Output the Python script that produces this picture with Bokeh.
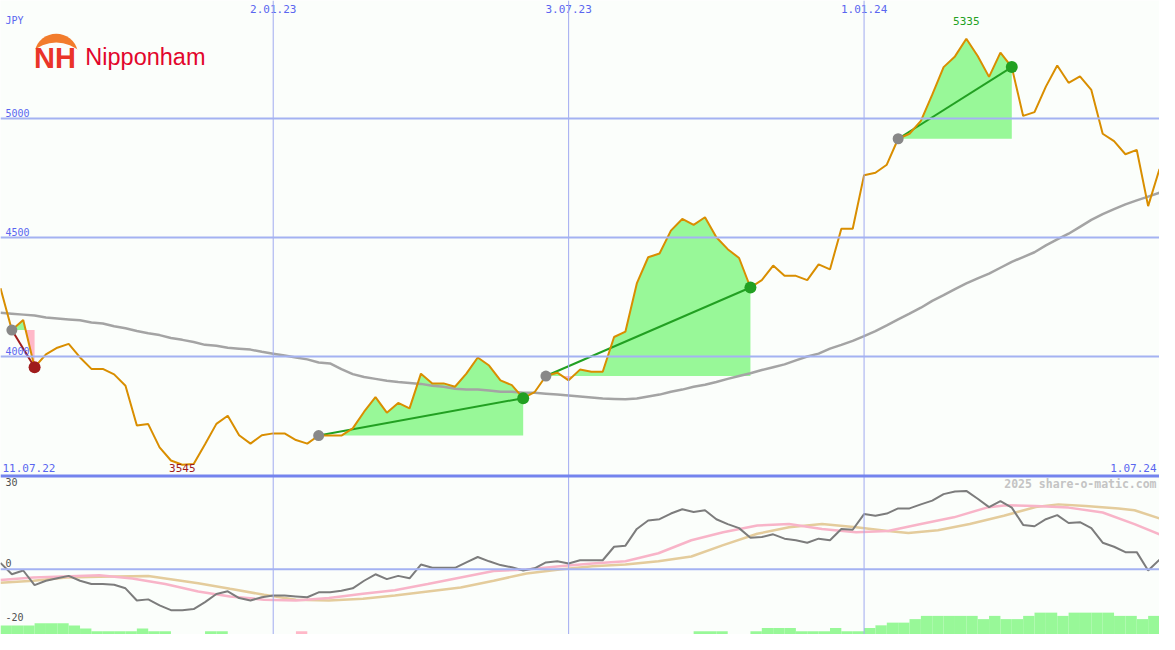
import numpy as np
import pandas as pd
from bokeh.plotting import figure
from bokeh.models import Range1d, Span
from bokeh.core.properties import value
from bokeh.embed import file_html
from bokeh.resources import INLINE

# ---------------- data ----------------
dates = pd.date_range("2022-07-18", periods=103, freq="7D")

price = [4287, 4111, 4153, 3955, 4009, 4037, 4053, 3996, 3948, 3948,
         3925, 3877, 3710, 3716, 3618, 3563, 3545, 3548, 3631, 3717,
         3751, 3669, 3634, 3669, 3677, 3677, 3649, 3634, 3668, 3668,
         3668, 3698, 3768, 3829, 3764, 3805, 3782, 3928, 3887, 3887,
         3873, 3928, 3996, 3962, 3900, 3880, 3825, 3850, 3918, 3932,
         3900, 3945, 3936, 3936, 4082, 4105, 4307, 4417, 4433, 4529,
         4578, 4553, 4585, 4501, 4451, 4414, 4290, 4321, 4382, 4339,
         4339, 4321, 4387, 4366, 4537, 4537, 4762, 4772, 4806, 4915,
         4936, 4990, 5100, 5216, 5261, 5335, 5263, 5175, 5277, 5216,
         5011, 5027, 5134, 5223, 5150, 5177, 5120, 4936, 4905, 4850,
         4868, 4632, 4788]

ma = [4184, 4180, 4176, 4172, 4164, 4160, 4156, 4152, 4143, 4139,
      4127, 4119, 4107, 4098, 4090, 4078, 4070, 4061, 4049, 4045,
      4037, 4033, 4029, 4020, 4012, 4004, 3996, 3988, 3975, 3971,
      3947, 3926, 3914, 3906, 3898, 3893, 3889, 3885, 3877, 3873,
      3865, 3861, 3861, 3857, 3852, 3852, 3848, 3848, 3844, 3840,
      3836, 3832, 3828, 3824, 3822, 3820, 3824, 3832, 3840, 3852,
      3861, 3873, 3881, 3893, 3906, 3918, 3930, 3943, 3955, 3967,
      3984, 4000, 4012, 4033, 4049, 4066, 4086, 4107, 4131, 4156,
      4180, 4205, 4234, 4258, 4283, 4307, 4328, 4348, 4373, 4398,
      4418, 4438, 4467, 4492, 4516, 4545, 4574, 4598, 4619, 4639,
      4656, 4672, 4688]

signal_start = [1, 28, 48, 79]
signal_end = [3, 46, 66, 89]

osc = [2.3, -1.9, -0.5, -5.9, -4.3, -3.4, -2.5, -4.3, -5.5, -5.5,
       -5.8, -7.1, -11.6, -11.2, -13.4, -15.2, -15.2, -14.8, -12.2, -9.2,
       -8.2, -10.7, -11.6, -10.4, -9.8, -9.8, -10.1, -10.4, -8.6, -8.6,
       -8.0, -7.1, -4.3, -1.9, -3.7, -2.5, -3.4, 1.7, 0.5, 0.5,
       0.5, 2.5, 4.5, 2.9, 1.5, 0.7, -0.5, 0.3, 2.5, 2.9,
       2.1, 3.3, 3.3, 3.3, 8.3, 8.7, 14.9, 18.0, 18.5, 20.6,
       22.2, 21.2, 21.8, 18.5, 16.7, 15.2, 11.6, 11.9, 12.9, 11.3,
       10.7, 9.8, 11.3, 10.7, 14.9, 14.6, 20.4, 19.8, 20.6, 22.5,
       22.5, 24.0, 25.4, 27.8, 28.8, 29.0, 26.1, 23.0, 25.2, 22.8,
       16.4, 15.9, 18.5, 20.0, 17.1, 17.4, 15.2, 9.8, 8.3, 6.3,
       6.3, -0.5, 3.5]

pink_wk = [0, 2.9, 8.7, 11.6, 14.5, 17.4, 20.2, 23.2, 26.0, 28.9, 31.9, 34.7,
           37.6, 40.5, 43.4, 46.3, 49.2, 52.1, 55.0, 57.9, 60.8, 63.6, 66.6,
           69.4, 72.3, 75.3, 78.1, 81.0, 83.9, 86.8, 88.5, 91.1, 94.0, 97.0,
           99.8, 102]
pink_val = [-4.0, -3.1, -2.3, -3.5, -5.5, -8.3, -10.1, -11.3, -11.6, -10.7,
            -9.1, -7.8, -5.5, -3.1, -0.7, -0.1, 1.1, 2.1, 2.9, 5.9, 10.7,
            13.7, 16.2, 16.7, 14.9, 13.7, 14.1, 16.7, 19.2, 22.8, 23.7, 23.4,
            22.8, 21.0, 16.7, 12.9]

tan_wk = [0, 2.9, 5.8, 8.7, 13.0, 17.4, 20.2, 23.2, 26.0, 28.9, 31.9, 34.7,
          37.6, 40.5, 43.4, 46.3, 49.2, 52.1, 55.0, 57.9, 60.8, 63.6, 66.6,
          69.4, 72.3, 75.3, 78.1, 79.9, 82.5, 85.3, 88.3, 91.1, 93.1, 95.5,
          98.4, 99.8, 102]
tan_val = [-5.0, -4.3, -3.1, -2.8, -2.5, -5.2, -7.3, -9.5, -11.3, -11.6,
           -11.0, -9.8, -8.3, -6.8, -4.3, -1.6, -0.1, 1.1, 1.7, 2.9, 4.7,
           8.9, 13.1, 15.5, 16.7, 15.5, 14.1, 13.4, 14.4, 16.7, 19.8, 23.0,
           24.0, 23.4, 22.5, 21.8, 18.8]

bars = [3.3, 3.3, 3.3, 4.2, 4.2, 4.2, 3.3, 2.2, 1.2, 1.2,
        1.2, 1.2, 2.2, 1.2, 1.2, 0, 0, 0, 1.2, 1.2,
        0, 0, 0, 0, 0, 0, -1.2, 0, 0, 0,
        0, 0, 0, 0, 0, 0, 0, 0, 0, 0,
        0, 0, 0, 0, 0, 0, 0, 0, 0, 0,
        0, 0, 0, 0, 0, 0, 0, 0, 0, 0,
        0, 1.2, 1.2, 1.2, 0, 0, 1.2, 2.4, 2.4, 2.4,
        1.2, 1.2, 1.2, 2.4, 1.2, 1.2, 2.4, 3.4, 4.4, 4.4,
        5.7, 6.9, 6.9, 6.9, 6.9, 6.9, 5.7, 6.9, 5.7, 5.7,
        6.9, 8.1, 8.1, 6.9, 8.1, 8.1, 8.1, 8.1, 6.9, 6.9,
        5.7, 6.9, 6.9]

price_ticks = [4000, 4500, 5000]
date_ticks = ["2023-01-02", "2023-07-03", "2024-01-01"]
date_tick_labels = ["2.01.23", "3.07.23", "1.01.24"]
osc_ticks = [30, 0, -20]
first_label, last_label = "11.07.22", "1.07.24"

# ---------------- layout helpers ----------------
W, H = 1159, 634
REF_W, REF_H = 1175.0, 650.0
SC = H / REF_H
K = 1000.0 / 244.0           # yen per reference pixel
OK = 1.0 / 2.767             # osc units per reference pixel
t0, t1 = dates[0], dates[-1]
span_ms = (t1 - t0)
BG = "#fbfefb"

def px_x(x):
    return t0 + span_ms * (x / REF_W)

def px_p(y):
    return 4000 + (365 - y) * K

def px_o(y):
    return (583 - y) * OK

p = figure(width=W, height=H, output_backend="svg", toolbar_location=None,
           x_axis_type="datetime",
           x_range=Range1d(t0, t1), y_range=Range1d(px_p(REF_H), px_p(0)),
           min_border=0, background_fill_color=BG,
           border_fill_color=BG, outline_line_color=None)
p.extra_y_ranges = {"osc": Range1d(px_o(REF_H), px_o(0))}
p.xaxis.visible = False
p.yaxis.visible = False
p.grid.visible = False

GREEN_FILL = "#98f898"
PINK_FILL = "#ffb8c8"

# ---- signal fills ----
price_a = np.array(price, dtype=float)
xnum = np.arange(len(price), dtype=float)
for s, e in zip(signal_start, signal_end):
    base = price_a[s]
    xs, ys = [xnum[s]], [price_a[s]]
    for i in range(s, e):
        a, b = price_a[i] - base, price_a[i + 1] - base
        if a * b < 0:
            t = a / (a - b)
            xs.append(xnum[i] + t)
            ys.append(base)
        xs.append(xnum[i + 1])
        ys.append(price_a[i + 1])
    xs = np.array(xs)
    ys = np.array(ys)
    xd = [t0 + pd.Timedelta(days=7 * v) for v in xs]
    p.varea(x=xd, y1=base, y2=np.maximum(ys, base), fill_color=GREEN_FILL)
    p.varea(x=xd, y1=base, y2=np.minimum(ys, base), fill_color=PINK_FILL)

# ---- lower panel bars ----
bars_a = np.array(bars)
left = dates
right = dates + pd.Timedelta(days=7)
bottom = px_o(REF_H)
pos = bars_a > 0
neg = bars_a < 0
p.quad(left=left[pos], right=right[pos], bottom=bottom, top=bottom + bars_a[pos],
       y_range_name="osc", fill_color=GREEN_FILL, line_color=None)
p.quad(left=left[neg], right=right[neg], bottom=bottom, top=bottom - bars_a[neg],
       y_range_name="osc", fill_color=PINK_FILL, line_color=None)

# ---- grid lines ----
for d in date_ticks:
    p.add_layout(Span(location=pd.Timestamp(d), dimension="height",
                      line_color="#a0aaf0", line_width=1))
for v in price_ticks:
    p.add_layout(Span(location=v, dimension="width", line_color="#a4b2f2", line_width=2))
p.add_layout(Span(location=0, dimension="width", y_range_name="osc",
                  line_color="#a4b2f2", line_width=2))
p.add_layout(Span(location=px_p(487.5), dimension="width",
                  line_color="#7484ee", line_width=3))

# ---- lower panel lines ----
def wk(v):
    return [t0 + pd.Timedelta(days=7 * x) for x in v]

p.line(wk(tan_wk), tan_val, y_range_name="osc", line_color="#e4cc9c", line_width=2.5)
p.line(wk(pink_wk), pink_val, y_range_name="osc", line_color="#f8b4c8", line_width=2.5)
p.line(dates, osc, y_range_name="osc", line_color="#7c7c7c", line_width=2)

# ---- main lines ----
p.line(dates, ma, line_color="#a4a4a4", line_width=2.5)

for s, e in zip(signal_start, signal_end):
    up = price[e] > price[s]
    col = "#22a022" if up else "#a01c1c"
    p.line([dates[s], dates[e]], [price[s], price[e]], line_color=col, line_width=2)

p.line(dates, price, line_color="#d98e00", line_width=2)

for s, e in zip(signal_start, signal_end):
    up = price[e] > price[s]
    col = "#22a022" if up else "#a01c1c"
    p.scatter([dates[s]], [price[s]], size=11, fill_color="#888888", line_color=None)
    p.scatter([dates[e]], [price[e]], size=12, fill_color=col, line_color=None)

# ---- texts ----
MONO = value("DejaVu Sans Mono")
BLUE = "#5a66f0"

def txt(x, y, s, color, size="10px", align="left", baseline="middle",
        font=MONO, style="normal", yname="default"):
    p.text(x=[x], y=[y], text=[s], text_color=color, text_font=font,
           text_font_size=size, text_align=align, text_baseline=baseline,
           text_font_style=style, y_range_name=yname)

txt(px_x(5), px_p(20), "JPY", BLUE)
for v in price_ticks:
    txt(px_x(5), v + 2 * K, str(v), BLUE, baseline="bottom")
for d, lab in zip(date_ticks, date_tick_labels):
    txt(pd.Timestamp(d), px_p(9), lab, BLUE, size="11px", align="center")
txt(px_x(2), px_p(479), first_label, BLUE, size="11px")
txt(px_x(1172), px_p(479), last_label, BLUE, size="11px", align="right")

i_min = int(np.argmin(price))
i_max = int(np.argmax(price))
txt(dates[i_min], px_p(479), str(price[i_min]), "#a01c1c", size="11px", align="center")
txt(dates[i_max], px_p(21), str(price[i_max]), "#22a022", size="11px", align="center")

for v in osc_ticks:
    txt(px_x(5), v + 2 * OK, str(v), "#505050", baseline="bottom", yname="osc")

txt(px_x(1172), px_o(496), "2025 share-o-matic.com", "#c4c4c4", size="11.5px",
    align="right", style="bold", yname="osc")

# ---- logo ----
p.wedge(x=[px_x(56.5)], y=[px_p(56.4)], radius=22.4 * SC, radius_units="screen",
        start_angle=np.radians(14), end_angle=np.radians(166),
        fill_color="#f27c2c", line_color=None)
p.wedge(x=[px_x(56.5)], y=[px_p(79.5)], radius=36.5 * SC, radius_units="screen",
        start_angle=0, end_angle=np.pi, fill_color=BG, line_color=None)
txt(px_x(34), px_p(58.5), "NH", "#ea3428", size="29px", baseline="middle",
    font=value("Liberation Sans"), style="bold")
txt(px_x(86), px_p(58), "Nipponham", "#e2062c", size="23.5px", baseline="middle",
    font=value("Liberation Sans"))

open("out.html", "w").write(file_html(p, INLINE))
